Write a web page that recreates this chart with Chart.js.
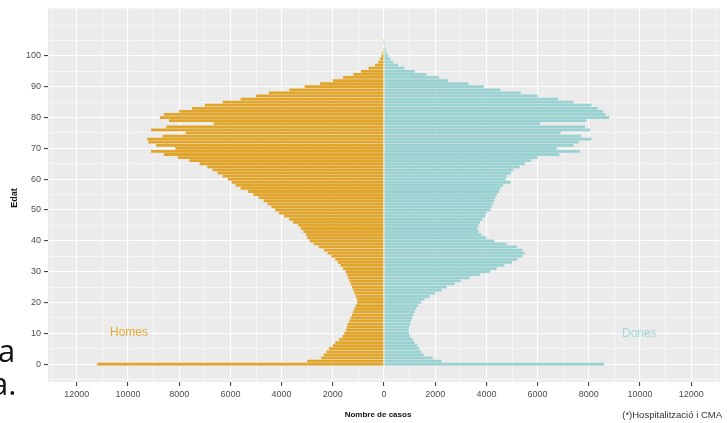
<!DOCTYPE html>
<html>
<head>
<meta charset="utf-8">
<script src="https://cdn.jsdelivr.net/npm/chart.js@4"></script>
<style>
  html, body { margin: 0; padding: 0; background: #fff; }
  #wrap { width: 727px; height: 423px; position: relative; }
</style>
</head>
<body>
<div id="wrap"><canvas id="pyramid" width="727" height="423"></canvas></div>
<script>
// ------------------------
// DATA
// ------------------------

const edats = Array.from({ length: 111 }, (_, i) => i);

// nombre de casos per edat (0..110), homes
const homes = [
    11200, 3000, 2450, 2350, 2250, 2150, 2000, 1900, 1750, 1620,
    1550, 1480, 1450, 1420, 1350, 1300, 1250, 1200, 1150, 1100,
    1050, 1050, 1100, 1150, 1200, 1250, 1300, 1350, 1400, 1450,
    1500, 1600, 1700, 1800, 1900, 2050, 2200, 2350, 2550, 2750,
    2900, 3000, 3050, 3150, 3250, 3350, 3550, 3700, 3900, 4100,
    4250, 4400, 4550, 4700, 4900, 5100, 5300, 5600, 5800, 5950,
    6100, 6300, 6500, 6700, 6900, 7200, 7600, 8050, 8600, 9100,
    8150, 8900, 9200, 9250, 8650, 7750, 9100, 8500, 6650, 8400,
    8750, 8600, 8000, 7500, 7000, 6300, 5600, 5000, 4500, 3700,
    3100, 2500, 2000, 1600, 1200, 900, 600, 350, 220, 150,
    100, 60, 35, 20, 12, 6, 0, 0, 0, 0, 0
];

// dones
const dones = [
    8600, 2250, 1900, 1550, 1450, 1380, 1300, 1200, 1120, 1020,
    980, 960, 990, 1020, 1060, 1100, 1150, 1200, 1260, 1330,
    1450, 1580, 1780, 2000, 2250, 2450, 2750, 3000, 3350, 3750,
    4150, 4400, 4700, 5000, 5200, 5400, 5500, 5400, 5200, 4800,
    4300, 4000, 3800, 3700, 3650, 3700, 3750, 3850, 3950, 4000,
    4150, 4200, 4250, 4300, 4350, 4420, 4500, 4550, 4650, 4950,
    4750, 4800, 4950, 5050, 5300, 5500, 5750, 6000, 6850, 7650,
    6750, 7400, 7600, 8100, 7700, 6900, 8050, 7850, 6100, 7900,
    8800, 8650, 8550, 8350, 8100, 7400, 6800, 6000, 5350, 4550,
    3900, 3300, 2500, 2150, 1650, 1200, 800, 550, 350, 250,
    170, 110, 70, 40, 25, 12, 0, 0, 0, 0, 0
];

// línies de la graella (les parelles porten etiqueta)
const xGrid = [-13000, -12000, -11000, -10000, -9000, -8000, -7000, -6000, -5000, -4000,
    -3000, -2000, -1000, 0, 1000, 2000, 3000, 4000, 5000, 6000, 7000, 8000, 9000,
    10000, 11000, 12000, 13000];
const yGrid = [-5, 0, 5, 10, 15, 20, 25, 30, 35, 40, 45, 50, 55, 60, 65, 70, 75, 80,
    85, 90, 95, 100, 105, 110];

const COLOR_HOMES = "#E0A52A";
const COLOR_DONES = "#99D2D1";

// ------------------------
// PLUGINS
// ------------------------

const panelBg = {
    id: "panelBg",
    beforeDraw(chart) {
        const { ctx, chartArea: a } = chart;
        ctx.save();
        ctx.fillStyle = "#EBEBEB";
        ctx.fillRect(a.left, a.top, a.right - a.left, a.bottom - a.top);
        ctx.restore();
    }
};

const labels = {
    id: "labels",
    afterDraw(chart) {
        const ctx = chart.ctx;
        ctx.save();

        // y title
        ctx.save();
        ctx.translate(15, 198);
        ctx.rotate(-Math.PI / 2);
        ctx.font = "bold 9px 'Liberation Sans', Arial, sans-serif";
        ctx.fillStyle = "#111";
        ctx.textAlign = "center";
        ctx.textBaseline = "middle";
        ctx.fillText("Edat", 0, 0);
        ctx.restore();

        ctx.textBaseline = "middle";
        ctx.font = "12px 'Liberation Sans', Arial, sans-serif";
        ctx.fillStyle = "#E3A935";
        ctx.textAlign = "left";
        ctx.fillText("Homes", 110, 333);
        ctx.fillStyle = "#A3D7D6";
        ctx.fillText("Dones", 622, 334);

        ctx.font = "bold 8px 'Liberation Sans', Arial, sans-serif";
        ctx.fillStyle = "#111";
        ctx.textAlign = "center";
        ctx.fillText("Nombre de casos", 378, 415);

        ctx.font = "9.5px 'Liberation Sans', Arial, sans-serif";
        ctx.fillStyle = "#333";
        ctx.textAlign = "right";
        ctx.fillText("(*)Hospitalització i CMA", 722, 415);

        // restes del text de la diapositiva
        ctx.font = "31px 'Open Sans', sans-serif";
        ctx.fillStyle = "#111";
        ctx.textAlign = "left";
        ctx.textBaseline = "alphabetic";
        ctx.fillText("a", -2, 362);
        ctx.fillText("a.", -9, 395);

        ctx.restore();
    }
};

// ------------------------
// CHART
// ------------------------

const isMajorX = v => v % 2000 === 0 && Math.abs(v) <= 12000;
const isMajorY = v => v % 10 === 0 && v >= 0 && v <= 100;

const tickVal = c => (c && c.tick) ? c.tick.value : NaN;

new Chart(document.getElementById("pyramid"), {
    type: "bar",
    data: {
        datasets: [
            {
                label: "Homes",
                data: edats.map((e, i) => ({ x: -homes[i], y: e })),
                backgroundColor: COLOR_HOMES,
                grouped: false,
                barPercentage: 0.9,
                categoryPercentage: 1
            },
            {
                label: "Dones",
                data: edats.map((e, i) => ({ x: dones[i], y: e })),
                backgroundColor: COLOR_DONES,
                grouped: false,
                barPercentage: 0.9,
                categoryPercentage: 1
            }
        ]
    },
    options: {
        indexAxis: "y",
        responsive: false,
        animation: false,
        layout: { padding: { top: 5, right: 7, left: 0, bottom: 0 } },
        plugins: {
            legend: { display: false },
            tooltip: { enabled: false }
        },
        scales: {
            x: {
                type: "linear",
                min: -13125,
                max: 13125,
                offset: false,
                border: { display: false },
                grid: {
                    offset: false,
                    color: "#FFFFFF",
                    lineWidth: c => isMajorX(tickVal(c)) ? 1.1 : 0.5,
                    tickColor: c => isMajorX(tickVal(c)) ? "#444" : "rgba(0,0,0,0)",
                    tickLength: 4,
                    drawTicks: true
                },
                afterBuildTicks: s => { s.ticks = xGrid.map(v => ({ value: v })); },
                ticks: {
                    autoSkip: false,
                    maxRotation: 0,
                    padding: 3,
                    color: "#4D4D4D",
                    font: { size: 9, family: "'Liberation Sans', Arial, sans-serif" },
                    callback: v => isMajorX(v) ? String(Math.abs(v)) : ""
                },
                afterFit: s => { s.height = 41; }
            },
            y: {
                type: "linear",
                min: -5.8,
                max: 115.4,
                offset: false,
                border: { display: false },
                grid: {
                    offset: false,
                    color: "#FFFFFF",
                    lineWidth: c => isMajorY(tickVal(c)) ? 1.1 : 0.5,
                    tickColor: c => isMajorY(tickVal(c)) ? "#444" : "rgba(0,0,0,0)",
                    tickLength: 4,
                    drawTicks: true
                },
                afterBuildTicks: s => { s.ticks = yGrid.map(v => ({ value: v })); },
                ticks: {
                    autoSkip: false,
                    padding: 3,
                    color: "#4D4D4D",
                    font: { size: 9, family: "'Liberation Sans', Arial, sans-serif" },
                    callback: v => isMajorY(v) ? String(v) : ""
                },
                afterFit: s => { s.width = 48; }
            }
        }
    },
    plugins: [panelBg, labels]
});
</script>
</body>
</html>
